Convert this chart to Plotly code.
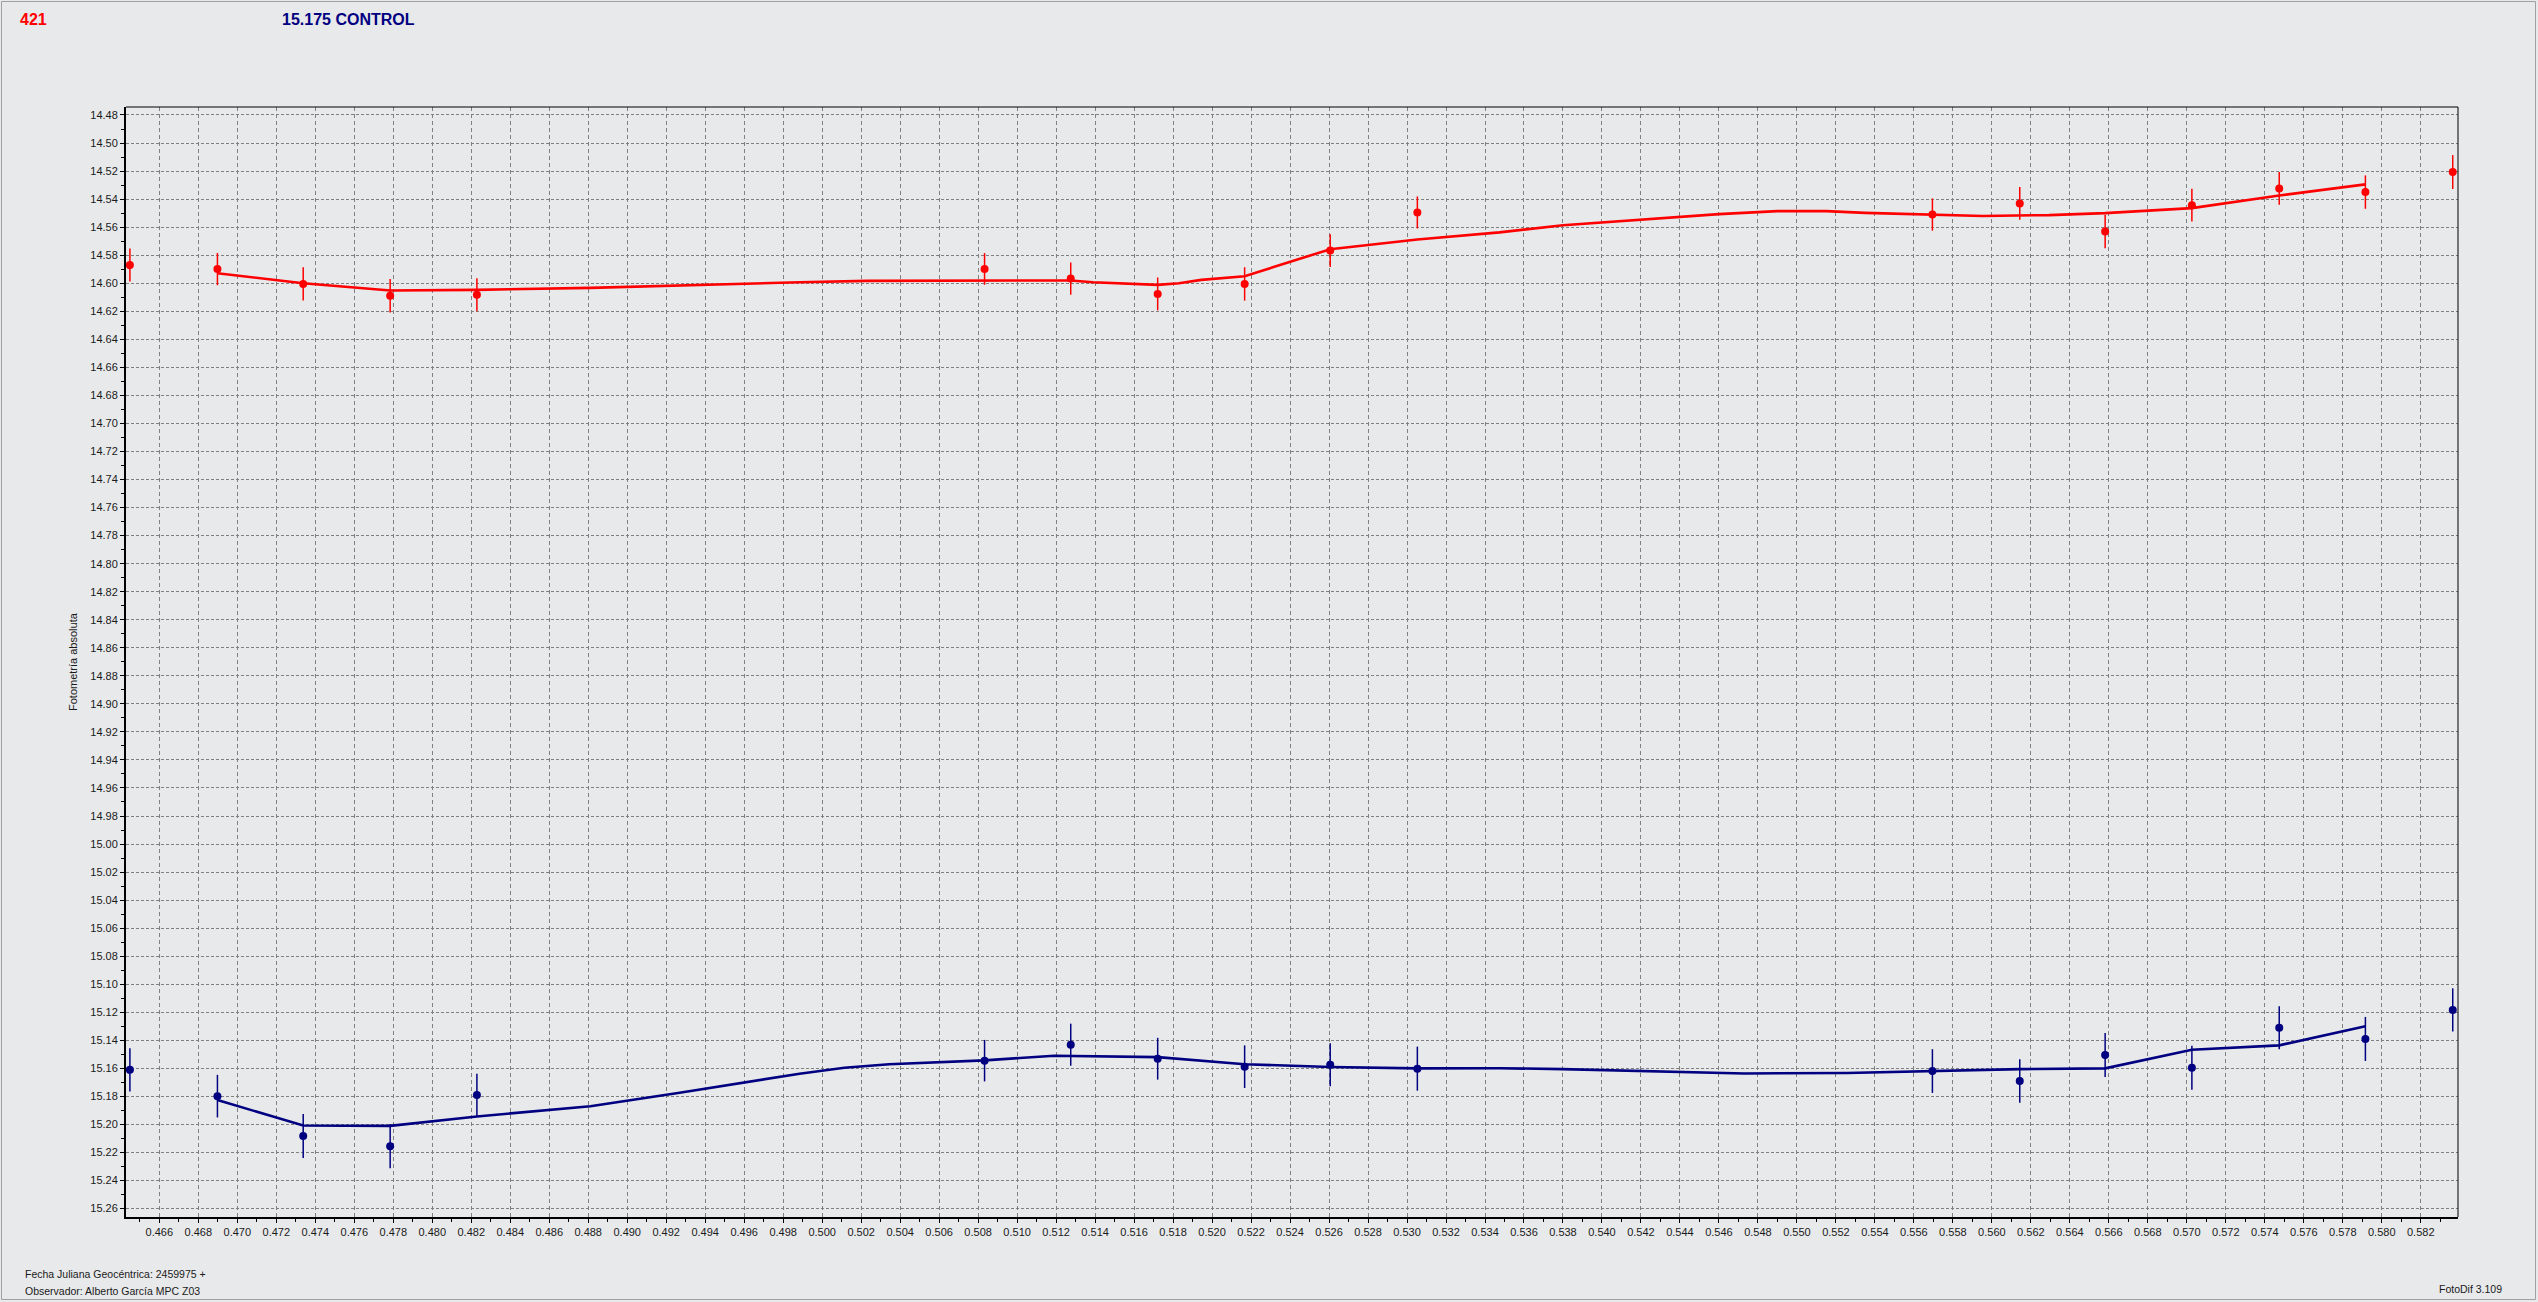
import plotly.graph_objects as go

# ---- data ----
jd = [0.46449, 0.46898, 0.47338, 0.47784, 0.48229, 0.50833, 0.51275, 0.51721, 0.52167,
      0.52606, 0.53053, 0.55695, 0.56143, 0.56581, 0.57026, 0.57474, 0.57916, 0.58364]

red_mag = [14.5870, 14.5899, 14.6005, 14.6089, 14.6082, 14.5898, 14.5967, 14.6076, 14.6005,
           14.5767, 14.5495, 14.5510, 14.5431, 14.5631, 14.5443, 14.5324, 14.5350, 14.5207]
red_err = [0.0117, 0.0115, 0.0119, 0.0120, 0.0118, 0.0113, 0.0115, 0.0117, 0.0119,
           0.0117, 0.0114, 0.0115, 0.0117, 0.0119, 0.0117, 0.0117, 0.0119, 0.0121]

blue_mag = [15.1610, 15.1798, 15.2083, 15.2155, 15.1790, 15.1545, 15.1431, 15.1531, 15.1588,
            15.1574, 15.1602, 15.1619, 15.1690, 15.1505, 15.1595, 15.1310, 15.1390, 15.1183]
blue_err = [0.0154, 0.0152, 0.0157, 0.0158, 0.0152, 0.0148, 0.0150, 0.0149, 0.0152,
            0.0154, 0.0157, 0.0156, 0.0156, 0.0157, 0.0157, 0.0154, 0.0157, 0.0154]

red_fit_x = [0.46898, 0.47338, 0.47784, 0.48229, 0.48811, 0.49269, 0.49883, 0.50229, 0.50833,
             0.51275, 0.51389, 0.51600, 0.51721, 0.51830, 0.51945, 0.52167, 0.52606, 0.53053,
             0.53474, 0.53800, 0.54200, 0.54600, 0.54900, 0.55150, 0.55350, 0.55695, 0.55953,
             0.56293, 0.56581, 0.57026, 0.57474, 0.57916]
red_fit_y = [14.5929, 14.6000, 14.6052, 14.6047, 14.6033, 14.6014, 14.5993, 14.5983, 14.5980,
             14.5980, 14.5993, 14.6005, 14.6012, 14.6000, 14.5976, 14.5950, 14.5757, 14.5688,
             14.5637, 14.5586, 14.5545, 14.5507, 14.5486, 14.5486, 14.5498, 14.5510, 14.5520,
             14.5514, 14.5500, 14.5464, 14.5374, 14.5295]

blue_fit_x = [0.46898, 0.47338, 0.47784, 0.48229, 0.48811, 0.49269, 0.49884, 0.50114, 0.50343,
              0.50833, 0.51190, 0.51490, 0.51721, 0.52167, 0.52606, 0.53053, 0.53474, 0.53797,
              0.54153, 0.54493, 0.54730, 0.55257, 0.55695, 0.55925, 0.56143, 0.56581, 0.57026,
              0.57474, 0.57916]
blue_fit_y = [15.1826, 15.2007, 15.2010, 15.1943, 15.1870, 15.1774, 15.1638, 15.1595, 15.1570,
              15.1543, 15.1510, 15.1515, 15.1520, 15.1570, 15.1590, 15.1600, 15.1599, 15.1605,
              15.1617, 15.1629, 15.1636, 15.1633, 15.1619, 15.1610, 15.1605, 15.1600, 15.1467,
              15.1436, 15.1300]

title_left = "421"
title_main = "15.175 CONTROL"
y_title = "Fotometría absoluta"
foot1 = "Fecha Juliana Geocéntrica: 2459975 +"
foot2 = "Observador: Alberto García MPC Z03"
foot3 = "FotoDif 3.109"

RED = "#FF0000"
NAVY = "#000080"
BG = "#E8E9EB"

W, H = 2538, 1302
L, R, T, B = 126, 80, 107, 85
PW, PH = W - L - R, H - T - B


def xp(px):
    return (px - L) / PW


def yp(py):
    return (H - B - py) / PH


fig = go.Figure()

for mag, err, fx, fy, col in [(red_mag, red_err, red_fit_x, red_fit_y, RED),
                              (blue_mag, blue_err, blue_fit_x, blue_fit_y, NAVY)]:
    fig.add_trace(go.Scatter(x=fx, y=fy, mode="lines",
                             line=dict(color=col, width=2.6), hoverinfo="skip"))
    fig.add_trace(go.Scatter(x=jd, y=mag, mode="markers",
                             marker=dict(color=col, size=8, symbol="circle"),
                             error_y=dict(type="data", array=err, visible=True,
                                          color=col, thickness=1.5, width=0)))

axis_font = dict(family="Liberation Sans, Arial, sans-serif", size=11, color="#1a1a1a")

fig.update_xaxes(range=[0.46429, 0.58391], tick0=0.466, dtick=0.002, tickformat=".3f",
                 showgrid=True, gridcolor="#808080", gridwidth=1, griddash="4px,3px",
                 showline=True, linecolor="black", linewidth=2, mirror=False,
                 ticks="outside", ticklen=4, tickcolor="black", tickwidth=1,
                 minor=dict(dtick=0.001, ticks="outside", ticklen=3, tickcolor="black",
                            showgrid=False),
                 zeroline=False, tickfont=axis_font)
fig.update_yaxes(range=[15.266, 14.4743], tick0=14.48, dtick=0.02, tickformat=".2f",
                 showgrid=True, gridcolor="#808080", gridwidth=1, griddash="3px,2px",
                 showline=True, linecolor="black", linewidth=2, mirror=False,
                 ticks="outside", ticklen=4, tickcolor="black", tickwidth=1,
                 minor=dict(dtick=0.01, ticks="outside", ticklen=3, tickcolor="black",
                            showgrid=False),
                 zeroline=False, tickfont=axis_font)

ann = []
ann.append(dict(text="<b>%s</b>" % title_left, x=xp(18), y=yp(20), xref="paper", yref="paper",
                xanchor="left", yanchor="middle", showarrow=False,
                font=dict(family="Liberation Sans, Arial", size=16, color=RED)))
ann.append(dict(text="<b>%s</b>" % title_main, x=xp(280), y=yp(20), xref="paper", yref="paper",
                xanchor="left", yanchor="middle", showarrow=False,
                font=dict(family="Liberation Sans, Arial", size=16, color=NAVY)))
ann.append(dict(text=y_title, x=xp(73), y=yp(662), xref="paper", yref="paper", textangle=-90,
                xanchor="center", yanchor="middle", showarrow=False,
                font=dict(family="Liberation Sans, Arial", size=11, color="#1a1a1a")))
foot_font = dict(family="Liberation Sans, Arial", size=10.5, color="#1a1a1a")
ann.append(dict(text=foot1, x=xp(23), y=yp(1274), xref="paper", yref="paper",
                xanchor="left", yanchor="middle", showarrow=False, font=foot_font))
ann.append(dict(text=foot2, x=xp(23), y=yp(1291), xref="paper", yref="paper",
                xanchor="left", yanchor="middle", showarrow=False, font=foot_font))
ann.append(dict(text=foot3, x=xp(2437), y=yp(1289), xref="paper", yref="paper",
                xanchor="left", yanchor="middle", showarrow=False, font=foot_font))

shapes = [
    dict(type="line", xref="paper", yref="paper", x0=0, x1=1, y0=1, y1=1,
         line=dict(color="black", width=1)),
    dict(type="line", xref="paper", yref="paper", x0=1, x1=1, y0=0, y1=1,
         line=dict(color="black", width=1)),
    dict(type="rect", xref="paper", yref="paper", x0=xp(1.5), x1=xp(W - 2.5),
         y0=yp(H - 2.5), y1=yp(1.5), line=dict(color="#a0a0a0", width=1), layer="below"),
]

fig.update_layout(width=W, height=H, margin=dict(l=L, r=R, t=T, b=B),
                  paper_bgcolor=BG, plot_bgcolor=BG, showlegend=False,
                  annotations=ann, shapes=shapes)

fig.write_html("out.html", config={"displayModeBar": False},
               post_script="document.body.style.margin='0';document.body.style.overflow='hidden';document.body.style.background='%s';" % BG)
